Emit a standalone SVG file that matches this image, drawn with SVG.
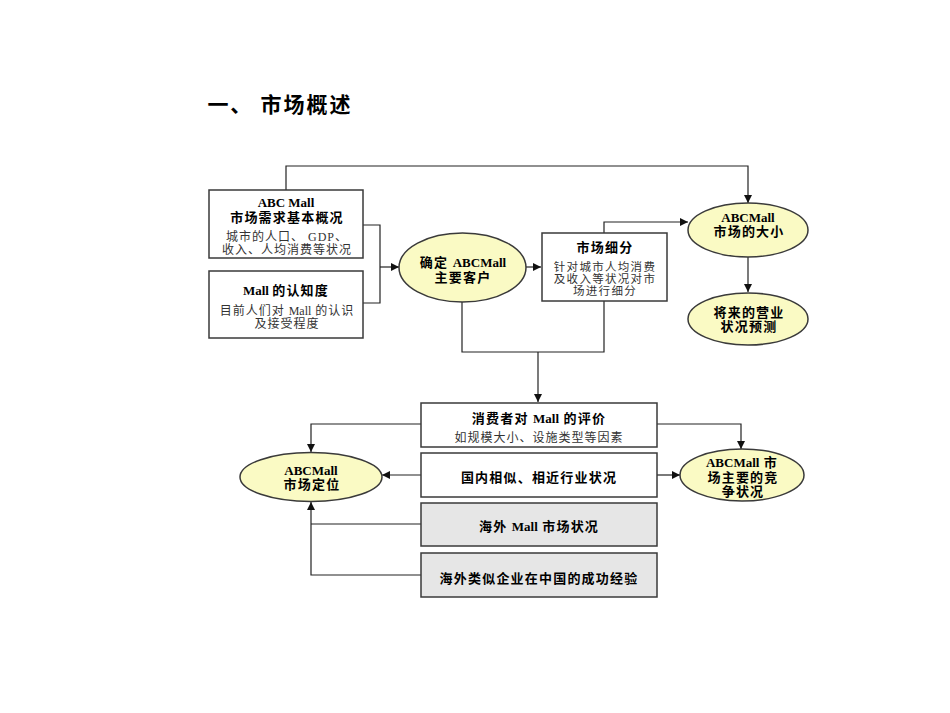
<svg xmlns="http://www.w3.org/2000/svg" width="950" height="713" viewBox="0 0 950 713">
<style>
text{font-family:"Liberation Serif","Noto Sans CJK SC",serif;text-anchor:middle;dominant-baseline:central;fill:#000}
.b{font-weight:bold;font-size:13px;letter-spacing:1.2px}
.n{font-size:12px;letter-spacing:1px;fill:#333}
.s{font-size:11.5px;letter-spacing:1.3px;fill:#333}
.l{letter-spacing:0}
.box{fill:#fff;stroke:#3a3a3a;stroke-width:1.5}
.gray{fill:#e6e6e6;stroke:#3a3a3a;stroke-width:1.5}
.ell{fill:#fafac4;stroke:#3a3a3a;stroke-width:1.5}
.c{fill:none;stroke:#222;stroke-width:1.2}
</style>
<defs>
<marker id="ah" viewBox="0 0 10 10" refX="10" refY="5" markerWidth="8" markerHeight="8" markerUnits="userSpaceOnUse" orient="auto">
<path d="M0,0L10,5L0,10z" fill="#111"/>
</marker>
</defs>
<rect width="950" height="713" fill="#fff"/>
<text x="280" y="105" style="font-size:21px;font-weight:bold;letter-spacing:2px">一、 市场概述</text>

<g id="connectors">
<path class="c" d="M286,190V166H748V203" marker-end="url(#ah)"/>
<path class="c" d="M363,225H380V303H363"/>
<path class="c" d="M380,267H399" marker-end="url(#ah)"/>
<path class="c" d="M526,267H541" marker-end="url(#ah)"/>
<path class="c" d="M604,233V222H688" marker-end="url(#ah)"/>
<path class="c" d="M748,257V292" marker-end="url(#ah)"/>
<path class="c" d="M462,302V352H604V301"/>
<path class="c" d="M538,352V402" marker-end="url(#ah)"/>
<path class="c" d="M421,424H311V452" marker-end="url(#ah)"/>
<path class="c" d="M421,475H382" marker-end="url(#ah)"/>
<path class="c" d="M657,424H741V449" marker-end="url(#ah)"/>
<path class="c" d="M657,475H680" marker-end="url(#ah)"/>
<path class="c" d="M421,575H311V502" marker-end="url(#ah)"/>
<path class="c" d="M421,524H311"/>
</g>

<g id="n1">
<rect class="box" x="209" y="190" width="154" height="68"/>
<text class="b l" x="286" y="202">ABC Mall</text>
<text class="b" x="287" y="217">市场需求基本概况</text>
<text class="n" x="287" y="237">城市的人口、 GDP、</text>
<text class="n" x="287" y="250">收入、人均消费等状况</text>
</g>
<g id="n2">
<rect class="box" x="209" y="271" width="154" height="67"/>
<text class="b" x="286" y="290"><tspan class="l">Mall </tspan>的认知度</text>
<text class="n" x="287" y="311">目前人们对 <tspan class="l">Mall</tspan> 的认识</text>
<text class="n" x="287" y="324">及接受程度</text>
</g>
<g id="n3">
<ellipse class="ell" cx="462.5" cy="267.5" rx="63.5" ry="34.5"/>
<text class="b" x="463" y="262">确定 <tspan class="l">ABCMall</tspan></text>
<text class="b" x="463" y="277">主要客户</text>
</g>
<g id="n4">
<rect class="box" x="542" y="233" width="125" height="68"/>
<text class="b" x="605" y="247">市场细分</text>
<text class="s" x="605" y="267">针对城市人均消费</text>
<text class="s" x="605" y="279">及收入等状况对市</text>
<text class="s" x="605" y="291">场进行细分</text>
</g>
<g id="n5">
<ellipse class="ell" cx="748" cy="230" rx="60" ry="27"/>
<text class="b l" x="748" y="217">ABCMall</text>
<text class="b" x="749" y="231">市场的大小</text>
</g>
<g id="n6">
<ellipse class="ell" cx="748" cy="319" rx="60" ry="26"/>
<text class="b" x="749" y="312">将来的营业</text>
<text class="b" x="749" y="326">状况预测</text>
</g>
<g id="n7">
<rect class="box" x="421" y="403" width="236" height="44"/>
<text class="b" x="539" y="418">消费者对 <tspan class="l">Mall</tspan> 的评价</text>
<text class="n" x="539" y="438">如规模大小、设施类型等因素</text>
</g>
<g id="n8">
<rect class="box" x="421" y="453" width="236" height="44"/>
<text class="b" x="539" y="477">国内相似、相近行业状况</text>
</g>
<g id="n9">
<rect class="gray" x="421" y="503" width="236" height="43"/>
<text class="b" x="539" y="526">海外 <tspan class="l">Mall</tspan> 市场状况</text>
</g>
<g id="n10">
<rect class="gray" x="421" y="553" width="236" height="44"/>
<text class="b" x="539" y="578">海外类似企业在中国的成功经验</text>
</g>
<g id="n11">
<ellipse class="ell" cx="311" cy="477" rx="71" ry="24.5"/>
<text class="b l" x="311" y="470">ABCMall</text>
<text class="b" x="312" y="484">市场定位</text>
</g>
<g id="n12">
<ellipse class="ell" cx="742" cy="475" rx="62" ry="26"/>
<text class="b" x="742" y="462"><tspan class="l">ABCMall</tspan> 市</text>
<text class="b" x="743" y="477">场主要的竞</text>
<text class="b" x="743" y="491">争状况</text>
</g>
</svg>
